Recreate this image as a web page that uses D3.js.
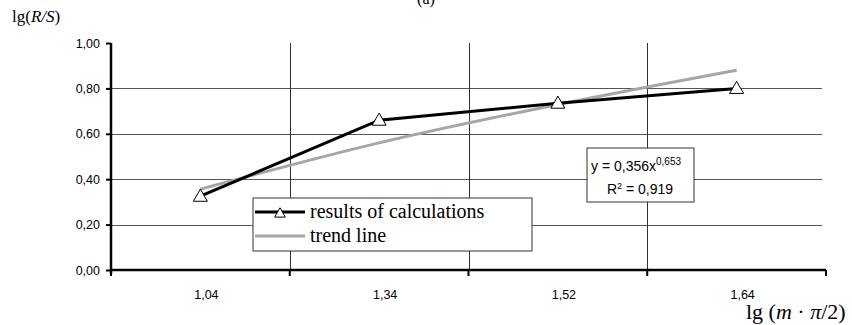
<!DOCTYPE html>
<html>
<head>
<meta charset="utf-8">
<script src="https://cdn.jsdelivr.net/npm/d3@7"></script>
<style>
body { margin: 0; background: #fff; }
svg text { font-family: "Liberation Sans", Arial, sans-serif; }
.serif { font-family: "Liberation Serif", "Times New Roman", serif !important; }
</style>
</head>
<body>
<div class="chart"></div>
<script>
var width = 852;
var height = 325;

// data
var categories = ['1,04', '1,34', '1,52', '1,64'];
var results = [0.325, 0.66, 0.735, 0.80];
var trend = [0.356, 0.56, 0.729, 0.88];
var yTicks = [0, 0.2, 0.4, 0.6, 0.8, 1.0];

var margin = {left: 111, right: 26, top: 43, bottom: 55};

var svg = d3.select('.chart')
	.append('svg')
	.attr('width', width)
	.attr('height', height)

var x = d3.scaleBand()
	.domain(categories)
	.range([margin.left, width - margin.right])

var y = d3.scaleLinear()
	.domain([0, 1])
	.range([height - margin.bottom, margin.top])

var fmt = function(d){ return d3.format('.2f')(d).replace('.', ',') }

// horizontal grid
svg.append('g')
	.selectAll('line')
	.data(yTicks.filter(function(d){ return d > 0 && d < 1 }))
	.enter().append('line')
	.attr('x1', margin.left)
	.attr('x2', width - margin.right - 4)
	.attr('y1', function(d){ return Math.round(y(d)) + 0.5 })
	.attr('y2', function(d){ return Math.round(y(d)) + 0.5 })
	.attr('stroke', '#555')
	.attr('stroke-width', 1)

// vertical grid at band boundaries
svg.append('g')
	.selectAll('line')
	.data(categories.slice(1))
	.enter().append('line')
	.attr('x1', function(d){ return Math.round(x(d)) + 0.5 })
	.attr('x2', function(d){ return Math.round(x(d)) + 0.5 })
	.attr('y1', y(1))
	.attr('y2', y(0))
	.attr('stroke', '#333')
	.attr('stroke-width', 1)

// y axis
var yAxis = svg.append('g')
	.attr('transform', 'translate(' + margin.left + ',0)')
	.call(d3.axisLeft(y).tickValues(yTicks).tickFormat(fmt).tickSize(5).tickPadding(6))
yAxis.select('.domain').attr('stroke-width', 2.5).attr('d', 'M0,' + y(1) + 'V' + (y(0) + 4))
yAxis.selectAll('.tick line').attr('stroke-width', 2)
yAxis.selectAll('text').attr('font-size', 12.5).attr('fill', '#000')
	.attr('font-family', '"Liberation Sans", Arial, sans-serif')

// x axis
var xAxis = svg.append('g')
	.attr('transform', 'translate(0,' + y(0) + ')')
xAxis.append('line')
	.attr('x1', margin.left)
	.attr('x2', width - margin.right)
	.attr('stroke', '#000')
	.attr('stroke-width', 2.5)
var bounds = categories.map(function(d){ return x(d) }).concat([width - margin.right])
xAxis.selectAll('.xt')
	.data(bounds)
	.enter().append('line')
	.attr('class', 'xt')
	.attr('x1', function(d){ return d })
	.attr('x2', function(d){ return d })
	.attr('y1', 0)
	.attr('y2', 6)
	.attr('stroke', '#000')
	.attr('stroke-width', 2)
xAxis.selectAll('.xl')
	.data(categories)
	.enter().append('text')
	.attr('class', 'xl')
	.attr('x', function(d){ return x(d) + x.bandwidth() / 2 + 6 })
	.attr('y', 29)
	.attr('text-anchor', 'middle')
	.attr('font-size', 12.5)
	.text(function(d){ return d })

var cx = function(d, i){ return x(categories[i]) + x.bandwidth() / 2 }

// trend line
svg.append('path')
	.datum(trend)
	.attr('fill', 'none')
	.attr('stroke', '#a6a6a6')
	.attr('stroke-width', 3)
	.attr('d', d3.line().x(cx).y(function(d){ return y(d) }).curve(d3.curveMonotoneX))

// results line
svg.append('path')
	.datum(results)
	.attr('fill', 'none')
	.attr('stroke', '#000')
	.attr('stroke-width', 3)
	.attr('d', d3.line().x(cx).y(function(d){ return y(d) }))

var tri = d3.symbol().type(d3.symbolTriangle).size(85)
svg.selectAll('.pt')
	.data(results)
	.enter().append('path')
	.attr('class', 'pt')
	.attr('transform', function(d, i){ return 'translate(' + cx(d, i) + ',' + (y(d) + 1) + ')' })
	.attr('d', tri)
	.attr('fill', '#fff')
	.attr('stroke', '#000')
	.attr('stroke-width', 1)

// legend
var lg = svg.append('g').attr('transform', 'translate(253,198)')
lg.append('rect')
	.attr('width', 279).attr('height', 53)
	.attr('fill', '#fff').attr('stroke', '#333').attr('stroke-width', 1)
lg.append('line').attr('x1', 2).attr('x2', 52).attr('y1', 14).attr('y2', 14)
	.attr('stroke', '#000').attr('stroke-width', 3)
lg.append('path').attr('transform', 'translate(27,16)').attr('d', d3.symbol().type(d3.symbolTriangle).size(50))
	.attr('fill', '#fff').attr('stroke', '#000')
lg.append('line').attr('x1', 2).attr('x2', 52).attr('y1', 38).attr('y2', 38)
	.attr('stroke', '#a6a6a6').attr('stroke-width', 3)
lg.append('text').attr('class', 'serif').attr('x', 57).attr('y', 20)
	.attr('font-size', 20).text('results of calculations')
lg.append('text').attr('class', 'serif').attr('x', 57).attr('y', 44)
	.attr('font-size', 20).text('trend line')

// equation box
var eq = svg.append('g').attr('transform', 'translate(587,148)')
eq.append('rect')
	.attr('width', 107).attr('height', 54)
	.attr('fill', '#fff').attr('stroke', '#333').attr('stroke-width', 1)
var t1 = eq.append('text').attr('x', 4).attr('y', 23).attr('font-size', 14)
t1.append('tspan').text('y = 0,356x')
t1.append('tspan').attr('dy', -6).attr('font-size', 10).text('0,653')
var t2 = eq.append('text').attr('x', 53).attr('y', 46).attr('font-size', 14).attr('text-anchor', 'middle')
t2.append('tspan').text('R')
t2.append('tspan').attr('dy', -5).attr('font-size', 9).text('2')
t2.append('tspan').attr('dy', 5).text(' = 0,919')

// axis titles
var yt = svg.append('text').attr('class', 'serif').attr('x', 12).attr('y', 22).attr('font-size', 17)
yt.append('tspan').text('lg(')
yt.append('tspan').attr('font-style', 'italic').text('R/S')
yt.append('tspan').text(')')

var xt = svg.append('text').attr('class', 'serif').attr('x', 746).attr('y', 319).attr('font-size', 22)
xt.append('tspan').text('lg (')
xt.append('tspan').attr('font-style', 'italic').text('m')
xt.append('tspan').text(' · ')
xt.append('tspan').attr('font-style', 'italic').text('π')
xt.append('tspan').text('/2)')

// cut-off panel title
svg.append('text').attr('class', 'serif').attr('x', 426).attr('y', 4).attr('font-size', 16)
	.attr('text-anchor', 'middle').text('(a)')
</script>
</body>
</html>
